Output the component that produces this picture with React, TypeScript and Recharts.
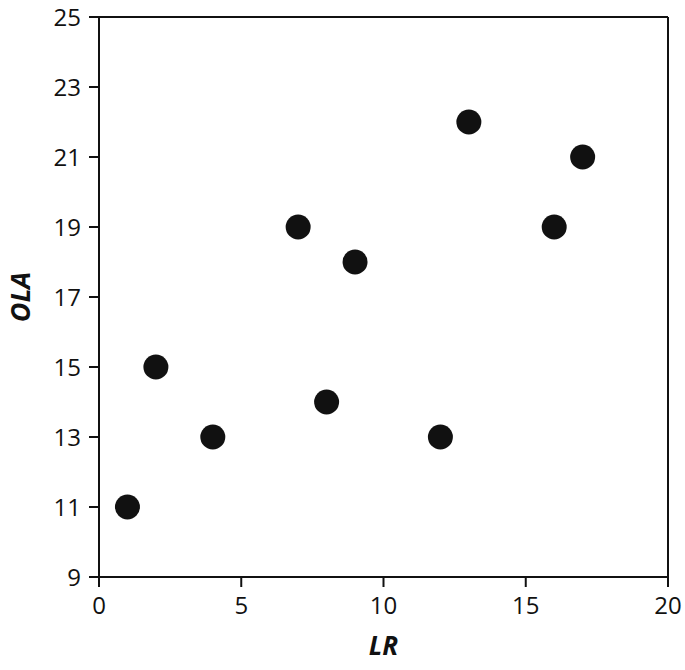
import { ScatterChart, Scatter, XAxis, YAxis, ReferenceLine } from "recharts";

// LR vs OLA readings
const lr = [1, 2, 4, 7, 8, 9, 12, 13, 16, 17];
const ola = [11, 15, 13, 19, 14, 18, 13, 22, 19, 21];
const xTicks = [0, 5, 10, 15, 20];
const yTicks = [9, 11, 13, 15, 17, 19, 21, 23, 25];

const points = lr.map((x, i) => ({ lr: x, ola: ola[i] }));

const ink = "#111111";
const font = "'Open Sans', 'Liberation Sans', sans-serif";

const Dot = (props: any) => <circle cx={props.cx} cy={props.cy} r={12.5} fill={ink} />;

export default function App() {
  return (
    <div style={{ position: "absolute", left: 0, top: 0, width: 685, height: 670, background: "#fff", overflow: "hidden" }}>
      <ScatterChart width={685} height={670} margin={{ top: 17, right: 17, bottom: 0, left: 0 }}>
        <XAxis
          type="number"
          dataKey="lr"
          domain={[0, 20]}
          ticks={xTicks}
          height={93}
          tickSize={10}
          tickMargin={10}
          axisLine={{ stroke: ink, strokeWidth: 2 }}
          tickLine={{ stroke: ink, strokeWidth: 2 }}
          tick={{ fill: ink, fontSize: 24, fontFamily: font }}
          label={{
            value: "LR",
            position: "insideBottom",
            offset: 15,
            style: { fill: ink, fontSize: 26, fontWeight: 700, fontStyle: "italic", fontFamily: font },
          }}
        />
        <YAxis
          type="number"
          dataKey="ola"
          domain={[9, 25]}
          ticks={yTicks}
          width={99}
          tickSize={10}
          tickMargin={8}
          axisLine={{ stroke: ink, strokeWidth: 2 }}
          tickLine={{ stroke: ink, strokeWidth: 2 }}
          tick={{ fill: ink, fontSize: 24, fontFamily: font }}
          label={{
            value: "OLA",
            angle: -90,
            position: "insideLeft",
            offset: 20,
            style: { textAnchor: "middle", fill: ink, fontSize: 27, fontWeight: 700, fontStyle: "italic", fontFamily: font },
          }}
        />
        <ReferenceLine y={25} stroke={ink} strokeWidth={2} />
        <ReferenceLine x={20} stroke={ink} strokeWidth={2} />
        <Scatter data={points} shape={Dot} isAnimationActive={false} />
      </ScatterChart>
    </div>
  );
}
